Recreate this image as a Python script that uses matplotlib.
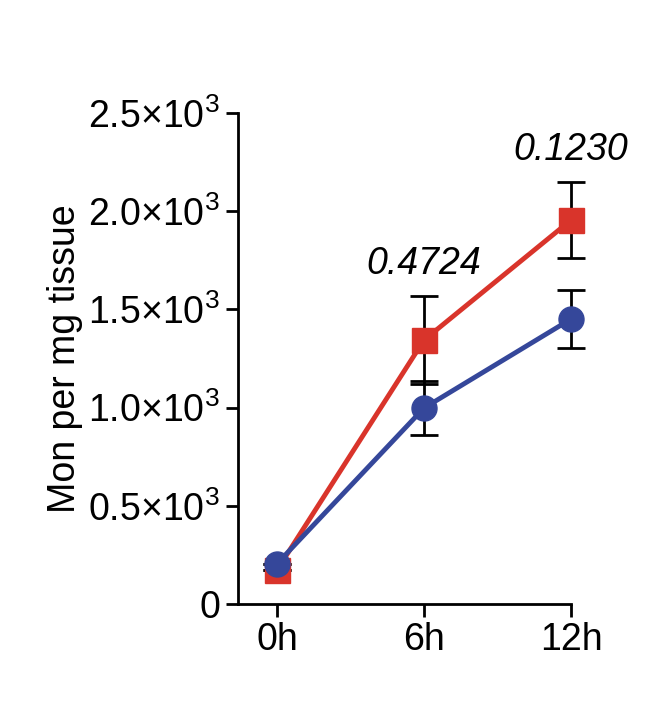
import matplotlib
matplotlib.use("Agg")
import matplotlib.pyplot as plt

categories = ["0h", "6h", "12h"]
red_vals = [173, 1344, 1955]
red_err = [0, 225, 195]
blue_vals = [205, 998, 1451]
blue_err = [0, 135, 148]
pvals = ["", "0.4724", "0.1230"]
yticks = [0, 500, 1000, 1500, 2000, 2500]
ylabels = ["0", "0.5×10$^3$", "1.0×10$^3$", "1.5×10$^3$", "2.0×10$^3$", "2.5×10$^3$"]

plt.rcParams["font.family"] = "Liberation Sans"
plt.rcParams["mathtext.fontset"] = "custom"
plt.rcParams["mathtext.rm"] = "Liberation Sans"
fs = 27
fig = plt.figure(figsize=(6.53, 7.02), dpi=100)
ax = fig.add_axes([0.3645, 0.1396, 0.51, 0.6994])
x = list(range(len(categories)))
red = "#d9342b"; blue = "#35479a"
for vals, err in [(red_vals, red_err), (blue_vals, blue_err)]:
    _, caps, bars = ax.errorbar(x, vals, yerr=err, color="black", fmt="none", capsize=10,
                                elinewidth=2, capthick=2, zorder=1)
    for a in list(caps) + list(bars):
        a.set_clip_on(False)
l1, = ax.plot(x, red_vals, color=red, lw=3.5, marker="s", ms=18, zorder=3, clip_on=False)
l2, = ax.plot(x, blue_vals, color=blue, lw=3.5, marker="o", ms=18, zorder=4, clip_on=False)
for i, p in enumerate(pvals):
    if p:
        top = max(red_vals[i] + red_err[i], blue_vals[i] + blue_err[i])
        ax.text(i, top + 70, p, ha="center", va="bottom", fontsize=fs, style="italic")
ax.set_xlim(-0.265, 2)
ax.set_ylim(0, 2500)
ax.set_xticks(x)
ax.set_xticklabels(categories, fontsize=fs)
ax.set_yticks(yticks)
ax.set_yticklabels(ylabels, fontsize=fs)
ax.set_ylabel("Mon per mg tissue", fontsize=fs)
for s in ["top", "right"]:
    ax.spines[s].set_visible(False)
for s in ["left", "bottom"]:
    ax.spines[s].set_linewidth(2)
ax.tick_params(width=2, length=9, pad=4)
fig.savefig("out.png", dpi=100)
